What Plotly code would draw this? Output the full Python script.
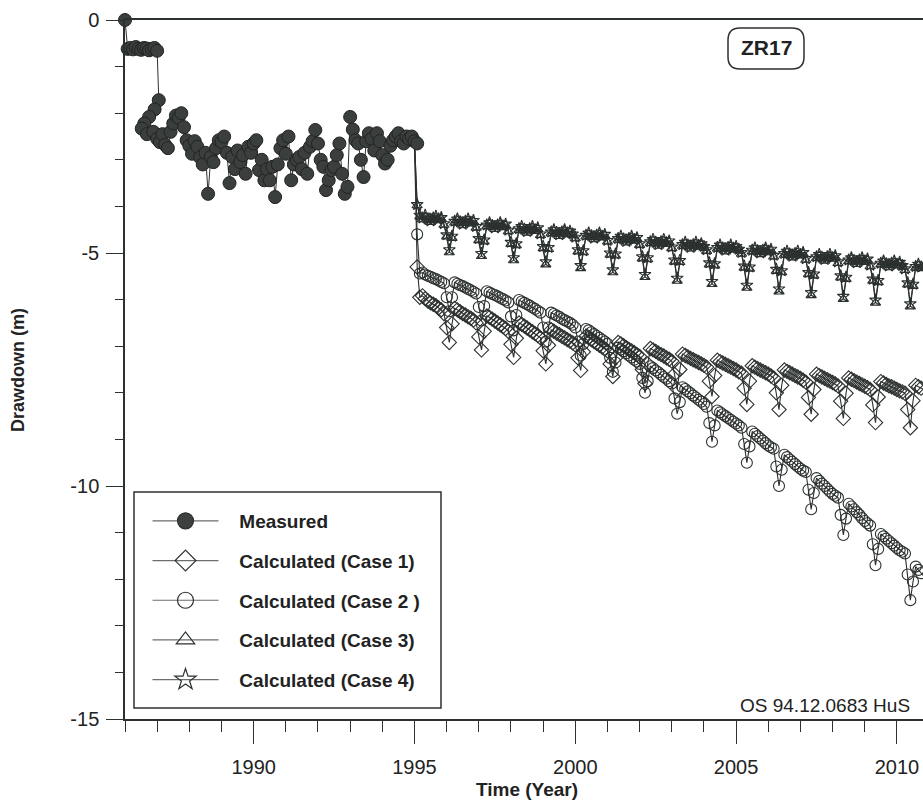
import plotly.graph_objects as go

# ---------------- data (drawdown in m) ----------------
# Measured: monthly 1986.0-1987.0, an irregular cluster, then monthly 1987.083-1995.083
measured_early = [0.0, -0.62, -0.6, -0.63, -0.58, -0.62, -0.64, -0.6, -0.61, -0.65, -0.62, -0.6, -0.66]
cluster_time = [1987.05, 1986.92, 1986.75, 1986.6, 1986.52, 1986.68, 1986.88, 1987.0]
cluster_drawdown = [-1.72, -1.92, -2.08, -2.22, -2.33, -2.45, -2.4, -2.55]
measured_monthly = [
    -2.62, -2.45, -2.68, -2.75, -2.4, -2.22, -2.05, -2.1, -2.0, -2.3, -2.58,
    -2.7, -2.87, -2.6, -2.72, -2.95, -3.1, -2.85, -3.73, -2.94, -3.05, -2.75, -2.58,
    -2.62, -2.5, -2.85, -3.5, -2.94, -3.2, -2.8, -3.05, -2.9, -3.3, -2.72, -2.85,
    -2.65, -2.58, -3.22, -3.0, -3.44, -3.2, -3.44, -3.15, -3.8, -3.1, -2.75, -2.58,
    -2.87, -2.5, -3.44, -3.1, -3.0, -2.94, -3.2, -2.85, -3.3, -2.72, -2.6, -2.36,
    -2.65, -3.0, -3.15, -3.65, -3.44, -3.22, -3.15, -2.9, -2.65, -3.3, -3.73, -3.58,
    -2.08, -2.35, -2.58, -2.65, -3.0, -3.37, -2.6, -2.43, -2.55, -2.8, -2.43, -2.6,
    -2.9, -3.08, -3.0, -2.7, -2.58, -2.5, -2.43, -2.6, -2.65, -2.5, -2.55, -2.5,
    -2.6, -2.65,
]

# Calculated cases: monthly values from 1995.0 (one row per year)
case1 = [
    -2.6, -5.3, -5.95, -5.92, -5.98, -6.03, -6.07, -6.1, -6.13, -6.18, -6.22, -6.3,
    -6.6, -6.92, -6.52, -6.19, -6.22, -6.26, -6.3, -6.33, -6.37, -6.4, -6.44, -6.5,
    -6.8, -7.08, -6.68, -6.35, -6.38, -6.42, -6.46, -6.5, -6.54, -6.58, -6.62, -6.68,
    -6.96, -7.24, -6.83, -6.5, -6.53, -6.57, -6.61, -6.65, -6.69, -6.73, -6.77, -6.82,
    -7.1, -7.38, -6.98, -6.65, -6.68, -6.72, -6.75, -6.79, -6.82, -6.86, -6.89, -6.93,
    -6.97, -7.25, -7.52, -7.12, -6.79, -6.82, -6.86, -6.9, -6.94, -6.98, -7.02, -7.06,
    -7.1, -7.38, -7.65, -7.25, -6.92, -6.95, -6.99, -7.03, -7.07, -7.1, -7.14, -7.18,
    -7.22, -7.5, -7.8, -7.38, -7.05, -7.08, -7.11, -7.15, -7.18, -7.21, -7.25, -7.28,
    -7.32, -7.6, -7.92, -7.5, -7.17, -7.2, -7.23, -7.26, -7.29, -7.32, -7.35, -7.38,
    -7.41, -7.45, -7.75, -8.08, -7.63, -7.3, -7.33, -7.36, -7.39, -7.42, -7.45, -7.48,
    -7.51, -7.55, -7.58, -7.9, -8.25, -7.75, -7.42, -7.45, -7.48, -7.51, -7.54, -7.57,
    -7.6, -7.64, -7.68, -8.0, -8.36, -7.84, -7.51, -7.54, -7.57, -7.6, -7.63, -7.66,
    -7.69, -7.73, -7.77, -8.1, -8.46, -7.93, -7.6, -7.63, -7.66, -7.69, -7.72, -7.75,
    -7.78, -7.81, -7.85, -8.18, -8.55, -8.01, -7.68, -7.71, -7.74, -7.77, -7.8, -7.83,
    -7.86, -7.89, -7.93, -8.26, -8.64, -8.09, -7.76, -7.79, -7.82, -7.85, -7.87, -7.9,
    -7.93, -7.96, -7.98, -8.01, -8.36, -8.75, -8.17, -7.84, -7.87, -7.9, -7.93, -7.96,
]
case2 = [
    -2.6, -4.6, -5.44, -5.42, -5.46, -5.49, -5.51, -5.54, -5.56, -5.59, -5.62, -5.65,
    -5.95, -6.25, -5.95, -5.63, -5.66, -5.69, -5.71, -5.74, -5.77, -5.8, -5.83, -5.87,
    -6.16, -6.45, -6.14, -5.82, -5.85, -5.88, -5.9, -5.93, -5.96, -5.99, -6.02, -6.06,
    -6.36, -6.66, -6.33, -6.01, -6.04, -6.07, -6.1, -6.13, -6.17, -6.2, -6.24, -6.28,
    -6.6, -6.9, -6.6, -6.28, -6.31, -6.34, -6.37, -6.41, -6.44, -6.47, -6.5, -6.54,
    -6.6, -6.9, -7.2, -6.95, -6.63, -6.66, -6.7, -6.74, -6.78, -6.82, -6.86, -6.9,
    -6.95, -7.25, -7.55, -7.35, -7.03, -7.07, -7.11, -7.15, -7.2, -7.24, -7.29, -7.33,
    -7.38, -7.68, -8.0, -7.75, -7.43, -7.47, -7.52, -7.56, -7.61, -7.66, -7.7, -7.75,
    -7.8, -8.12, -8.45, -8.2, -7.88, -7.92, -7.97, -8.01, -8.06, -8.1, -8.15, -8.19,
    -8.24, -8.3, -8.65, -9.05, -8.7, -8.38, -8.42, -8.46, -8.5, -8.54, -8.58, -8.62,
    -8.66, -8.7, -8.75, -9.1, -9.5, -9.15, -8.83, -8.88, -8.93, -8.98, -9.03, -9.08,
    -9.13, -9.17, -9.2, -9.58, -10.0, -9.65, -9.33, -9.38, -9.43, -9.48, -9.53, -9.58,
    -9.63, -9.67, -9.7, -10.08, -10.5, -10.15, -9.83, -9.89, -9.95, -10.0, -10.06, -10.12,
    -10.17, -10.21, -10.25, -10.62, -11.05, -10.7, -10.38, -10.44, -10.5, -10.56, -10.62, -10.69,
    -10.75, -10.8, -10.85, -11.25, -11.7, -11.35, -11.03, -11.08, -11.13, -11.18, -11.23, -11.28,
    -11.33, -11.38, -11.41, -11.45, -11.9, -12.45, -12.05, -11.73, -11.8, -11.87, -11.94, -12.0,
]
case3 = [
    -2.6, -3.98, -4.22, -4.28, -4.22, -4.3, -4.34, -4.28, -4.24, -4.3, -4.27, -4.4,
    -4.65, -4.99, -4.68, -4.35, -4.3, -4.36, -4.41, -4.35, -4.3, -4.37, -4.33, -4.46,
    -4.73, -5.07, -4.76, -4.43, -4.38, -4.44, -4.49, -4.43, -4.38, -4.45, -4.41, -4.54,
    -4.81, -5.16, -4.84, -4.51, -4.46, -4.52, -4.57, -4.51, -4.46, -4.53, -4.49, -4.62,
    -4.9, -5.25, -4.92, -4.58, -4.53, -4.59, -4.64, -4.58, -4.53, -4.6, -4.56, -4.62,
    -4.69, -4.97, -5.33, -4.99, -4.65, -4.6, -4.66, -4.71, -4.65, -4.6, -4.67, -4.63,
    -4.76, -5.04, -5.42, -5.06, -4.72, -4.67, -4.73, -4.78, -4.72, -4.67, -4.74, -4.7,
    -4.83, -5.12, -5.52, -5.14, -4.79, -4.74, -4.8, -4.85, -4.79, -4.74, -4.81, -4.77,
    -4.9, -5.19, -5.6, -5.2, -4.85, -4.8, -4.86, -4.91, -4.85, -4.8, -4.87, -4.83,
    -4.89, -4.96, -5.25, -5.67, -5.27, -4.91, -4.86, -4.92, -4.97, -4.91, -4.86, -4.93,
    -4.89, -4.95, -5.02, -5.32, -5.75, -5.34, -4.97, -4.92, -4.98, -5.03, -4.97, -4.92,
    -4.99, -4.95, -5.08, -5.39, -5.83, -5.42, -5.04, -4.99, -5.05, -5.1, -5.04, -4.99,
    -5.06, -5.02, -5.15, -5.46, -5.91, -5.49, -5.11, -5.06, -5.12, -5.17, -5.11, -5.06,
    -5.13, -5.09, -5.22, -5.53, -5.99, -5.56, -5.18, -5.13, -5.19, -5.24, -5.18, -5.13,
    -5.2, -5.16, -5.29, -5.6, -6.07, -5.63, -5.25, -5.2, -5.26, -5.31, -5.25, -5.2,
    -5.27, -5.23, -5.3, -5.37, -5.68, -6.15, -5.71, -5.32, -5.27, -5.33, -5.38, -5.32,
]
case4 = [
    -2.6, -3.96, -4.19, -4.25, -4.19, -4.27, -4.31, -4.25, -4.21, -4.27, -4.24, -4.37,
    -4.61, -4.93, -4.64, -4.32, -4.27, -4.33, -4.38, -4.32, -4.27, -4.34, -4.3, -4.43,
    -4.69, -5.01, -4.72, -4.4, -4.35, -4.41, -4.46, -4.4, -4.35, -4.42, -4.38, -4.51,
    -4.77, -5.1, -4.8, -4.48, -4.43, -4.49, -4.54, -4.48, -4.43, -4.5, -4.46, -4.59,
    -4.86, -5.19, -4.88, -4.55, -4.5, -4.56, -4.61, -4.55, -4.5, -4.57, -4.53, -4.59,
    -4.66, -4.93, -5.27, -4.95, -4.62, -4.57, -4.63, -4.68, -4.62, -4.57, -4.64, -4.6,
    -4.73, -5.0, -5.36, -5.02, -4.69, -4.64, -4.7, -4.75, -4.69, -4.64, -4.71, -4.67,
    -4.8, -5.08, -5.46, -5.1, -4.76, -4.71, -4.77, -4.82, -4.76, -4.71, -4.78, -4.74,
    -4.87, -5.15, -5.54, -5.16, -4.82, -4.77, -4.83, -4.88, -4.82, -4.77, -4.84, -4.8,
    -4.86, -4.93, -5.21, -5.61, -5.23, -4.88, -4.83, -4.89, -4.94, -4.88, -4.83, -4.9,
    -4.86, -4.92, -4.99, -5.28, -5.69, -5.3, -4.94, -4.89, -4.95, -5.0, -4.94, -4.89,
    -4.96, -4.92, -5.05, -5.35, -5.77, -5.38, -5.01, -4.96, -5.02, -5.07, -5.01, -4.96,
    -5.03, -4.99, -5.12, -5.42, -5.85, -5.45, -5.08, -5.03, -5.09, -5.14, -5.08, -5.03,
    -5.1, -5.06, -5.19, -5.49, -5.93, -5.52, -5.15, -5.1, -5.16, -5.21, -5.15, -5.1,
    -5.17, -5.13, -5.26, -5.56, -6.01, -5.59, -5.22, -5.17, -5.23, -5.28, -5.22, -5.17,
    -5.24, -5.2, -5.27, -5.34, -5.64, -6.09, -5.67, -5.29, -5.24, -5.3, -5.35, -5.29,
]

series_names = ["Measured", "Calculated (Case 1)", "Calculated (Case 2 )",
                "Calculated (Case 3)", "Calculated (Case 4)"]
y_tick_values = [0, -5, -10, -15]
y_tick_labels = ["0", "-5", "-10", "-15"]
x_tick_values = [1990, 1995, 2000, 2005, 2010]
x_tick_labels = ["1990", "1995", "2000", "2005", "2010"]

measured_time = ([1986 + i / 12 for i in range(len(measured_early))] + cluster_time
                 + [1987 + (i + 1) / 12 for i in range(len(measured_monthly))])
measured_drawdown = measured_early + cluster_drawdown + measured_monthly
calc_time = [1995 + i / 12 for i in range(len(case1))]

# ---------------- styling ----------------
INK = "#2b312f"
FONT = "Liberation Sans, Arial, sans-serif"
W, H = 923, 804
L, R, T, B = 125, 0, 20, 85
PW, PH = W - L - R, H - T - B


def px(x):
    return (x - L) / PW


def py(y):
    return 1 - (y - T) / PH


fig = go.Figure()

calc_styles = [
    (case1, "diamond-open", 11),
    (case2, "circle-open", 11),
    (case3, "triangle-up-open", 9),
    (case4, "star-open", 9),
]
legend_symbols = ["circle", "diamond-open", "circle-open", "triangle-up-open", "star-open"]

# legend entries (no data, only legend symbols)
for i, (name, sym) in enumerate(zip(series_names, legend_symbols)):
    fig.add_trace(go.Scatter(
        x=[None], y=[None], mode="lines+markers", name="\u00a0\u00a0\u00a0<b>" + name + "</b>",
        legendgroup=f"g{i}",
        line=dict(color="#6a6e6c", width=1.2),
        marker=dict(symbol=sym, size=16, color="#3c4140" if i == 0 else INK,
                    line=dict(color=INK, width=1.2)),
        hoverinfo="skip",
    ))

for vals, sym, size in calc_styles:
    fig.add_trace(go.Scatter(
        x=calc_time, y=vals, mode="lines+markers", showlegend=False,
        line=dict(color=INK, width=1.1),
        marker=dict(symbol=sym, size=size, color=INK, line=dict(color=INK, width=1.1)),
    ))

fig.add_trace(go.Scatter(
    x=measured_time, y=measured_drawdown, mode="lines+markers", showlegend=False,
    cliponaxis=False,
    line=dict(color=INK, width=1),
    marker=dict(symbol="circle", size=13, color="#3a3f3e", line=dict(color="#222", width=1)),
))

# rounded box for the well label
x0, x1 = px(728), px(804)
y0, y1 = py(69), py(28)
rx, ry = 12 / PW, 12 / PH
path = (f"M {x0+rx},{y1} L {x1-rx},{y1} Q {x1},{y1} {x1},{y1-ry} L {x1},{y0+ry} "
        f"Q {x1},{y0} {x1-rx},{y0} L {x0+rx},{y0} Q {x0},{y0} {x0},{y0+ry} "
        f"L {x0},{y1-ry} Q {x0},{y1} {x0+rx},{y1} Z")

fig.update_layout(
    width=W, height=H,
    margin=dict(l=L, r=R, t=T, b=B, autoexpand=False),
    paper_bgcolor="white", plot_bgcolor="white",
    font=dict(family=FONT, color="#222", size=20),
    showlegend=True,
    legend=dict(
        x=px(147.5), y=py(502), xanchor="left", yanchor="top",
        bgcolor="rgba(0,0,0,0)", borderwidth=0,
        font=dict(family=FONT, size=19, color="#222"),
        itemwidth=66, tracegroupgap=12, itemsizing="trace",
        itemclick=False, itemdoubleclick=False,
    ),
    xaxis=dict(
        range=[1986, 2010.81], tickmode="array", tickvals=x_tick_values, ticktext=x_tick_labels,
        ticks="outside", ticklen=23, tickwidth=1.2, tickcolor=INK,
        minor=dict(dtick=1, tick0=1986, ticks="outside", ticklen=11, tickwidth=1.2, tickcolor=INK),
        showline=True, linecolor=INK, linewidth=1.5, mirror=True,
        showgrid=False, zeroline=False, automargin=False,
        tickfont=dict(size=20, family=FONT, color="#222"),
        ticklabelstandoff=6,
    ),
    yaxis=dict(
        range=[-15, 0], tickmode="array", tickvals=y_tick_values, ticktext=y_tick_labels,
        ticks="outside", ticklen=17, tickwidth=1.2, tickcolor=INK,
        minor=dict(dtick=1, tick0=0, ticks="outside", ticklen=8, tickwidth=1.2, tickcolor=INK),
        showline=True, linecolor=INK, linewidth=1.5,
        showgrid=False, zeroline=False, automargin=False,
        tickfont=dict(size=20, family=FONT, color="#222"),
        ticklabelstandoff=3,
    ),
    shapes=[
        dict(type="path", xref="paper", yref="paper", path=path,
             line=dict(color=INK, width=1.5), fillcolor="white", layer="above"),
        dict(type="rect", xref="paper", yref="paper",
             x0=px(134), x1=px(441), y0=py(708), y1=py(492),
             line=dict(color=INK, width=1.5), fillcolor="white", layer="above"),
    ],
    annotations=[
        dict(text="<b>ZR17</b>", x=px(766), y=py(48), xref="paper", yref="paper",
             xanchor="center", yanchor="middle",
             showarrow=False, font=dict(size=21, family=FONT, color="#222")),
        dict(text="OS 94.12.0683 HuS", x=px(912), y=py(705), xref="paper", yref="paper",
             xanchor="right", yanchor="middle",
             showarrow=False, font=dict(size=19, family=FONT, color="#222")),
        dict(text="<b>Time (Year)</b>", x=px(527), y=py(790), xref="paper", yref="paper",
             xanchor="center", yanchor="middle",
             showarrow=False, font=dict(size=19, family=FONT, color="#222")),
        dict(text="<b>Drawdown (m)</b>", x=px(18), y=py(370), xref="paper", yref="paper",
             xanchor="center", yanchor="middle",
             textangle=-90, showarrow=False, font=dict(size=18, family=FONT, color="#222")),
    ],
)

fig.write_html("out.html")
